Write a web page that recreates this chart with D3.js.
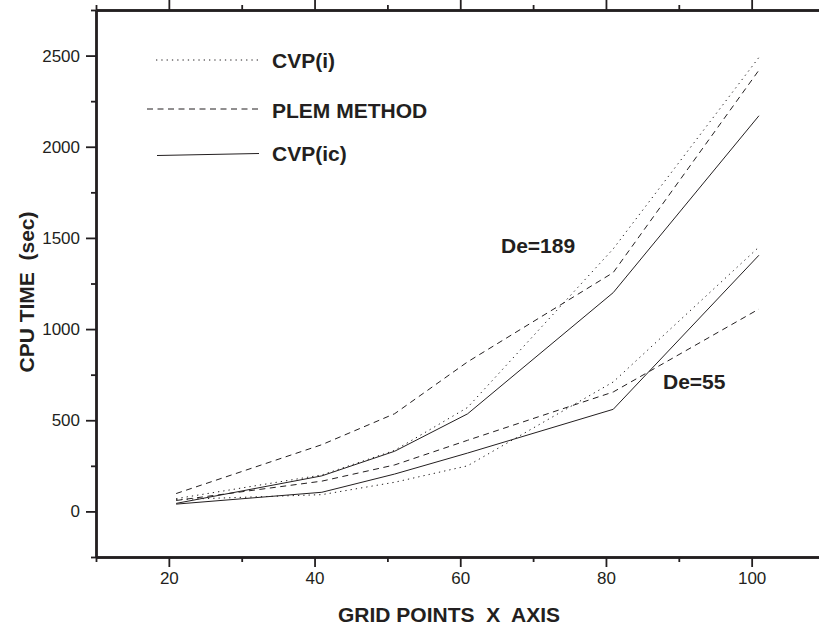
<!DOCTYPE html>
<html>
<head>
<meta charset="utf-8">
<script src="https://cdn.jsdelivr.net/npm/d3@7"></script>
<style>
  html, body { margin: 0; padding: 0; background: #fff; }
  svg { display: block; }
  text { font-family: "Liberation Sans", Arial, Helvetica, sans-serif; fill: #231f20; }
</style>
</head>
<body>
<svg id="chart" width="819" height="630"></svg>
<script>
// Grid points along the X axis
const gridPoints = [21, 41, 51, 61, 81, 101];

// CPU time (sec), De = 189
const cvpI189  = [70, 200, 335, 570, 1440, 2490];
const plem189  = [98, 366, 536, 820, 1310, 2420];
const cvpIc189 = [44, 195, 330, 535, 1200, 2170];

// CPU time (sec), De = 55
const cvpI55  = [65, 92, 160, 250, 710, 1450];
const plem55  = [60, 166, 255, 390, 655, 1110];
const cvpIc55 = [40, 105, 205, 320, 560, 1405];

const xTicks = [20, 40, 60, 80, 100];
const yTicks = [0, 500, 1000, 1500, 2000, 2500];

const methods = [
  { name: "CVP(i)",      dash: "1.3,4",  series: [cvpI189, cvpI55] },
  { name: "PLEM METHOD", dash: "6,4.5",  series: [plem189, plem55] },
  { name: "CVP(ic)",     dash: null,     series: [cvpIc189, cvpIc55] }
];

const ink = "#231f20";
const svg = d3.select("#chart");

const x = d3.scaleLinear().domain([10, 110]).range([96, 824.5]);
const y = d3.scaleLinear().domain([-250, 2750]).range([557, 10]);

// ---- data lines ----
const line = d3.line()
  .x((d, i) => x(gridPoints[i]))
  .y(d => y(d));

methods.forEach(m => {
  m.series.forEach(values => {
    svg.append("path")
      .datum(values)
      .attr("d", line)
      .attr("fill", "none")
      .attr("stroke", ink)
      .attr("stroke-width", 1)
      .attr("stroke-dasharray", m.dash);
  });
});

// ---- axes ----
function styleAxis(g) {
  g.select(".domain").attr("stroke", ink).attr("stroke-width", 2.4);
  g.selectAll(".tick line").attr("stroke", ink).attr("stroke-width", 1.8);
  g.selectAll(".tick text")
    .attr("font-size", 17)
    .attr("font-family", "Liberation Sans, Arial, sans-serif")
    .attr("fill", ink);
}

const yMinor = d3.range(-250, 2751, 500);
const xMinor = d3.range(10, 111, 20);
const plain = d3.format("d");

// bottom
svg.append("g")
  .attr("transform", `translate(0,${y(-250)})`)
  .call(d3.axisBottom(x).tickValues(xTicks).tickFormat(plain).tickSize(10).tickSizeOuter(0).tickPadding(5))
  .call(styleAxis);
svg.append("g")
  .attr("transform", `translate(0,${y(-250)})`)
  .call(d3.axisBottom(x).tickValues(xMinor).tickSize(5).tickSizeOuter(0).tickFormat(""))
  .call(styleAxis);

// top
svg.append("g")
  .attr("transform", `translate(0,${y(2750)})`)
  .call(d3.axisTop(x).tickValues(xTicks).tickSize(10).tickSizeOuter(0).tickFormat(""))
  .call(styleAxis);
svg.append("g")
  .attr("transform", `translate(0,${y(2750)})`)
  .call(d3.axisTop(x).tickValues(xMinor).tickSize(5).tickSizeOuter(0).tickFormat(""))
  .call(styleAxis);

// left
svg.append("g")
  .attr("transform", `translate(${x(10)},0)`)
  .call(d3.axisLeft(y).tickValues(yTicks).tickFormat(plain).tickSize(10).tickSizeOuter(0).tickPadding(6))
  .call(styleAxis);
svg.append("g")
  .attr("transform", `translate(${x(10)},0)`)
  .call(d3.axisLeft(y).tickValues(yMinor).tickSize(5).tickSizeOuter(0).tickFormat(""))
  .call(styleAxis);

// ---- axis titles ----
svg.append("text")
  .attr("x", 449)
  .attr("y", 622)
  .attr("text-anchor", "middle")
  .attr("font-size", 21)
  .attr("font-weight", "bold")
  .style("white-space", "pre")
  .text("GRID POINTS  X  AXIS");

svg.append("text")
  .attr("transform", "translate(34,292) rotate(-90)")
  .attr("text-anchor", "middle")
  .attr("font-size", 21)
  .attr("font-weight", "bold")
  .style("white-space", "pre")
  .text("CPU TIME  (sec)");

// ---- legend ----
const legendRows = [
  { x1: 156, x2: 258, y1: 60,  y2: 60,  ty: 68 },
  { x1: 147, x2: 261, y1: 109, y2: 109, ty: 118 },
  { x1: 157, x2: 259, y1: 155.5, y2: 153.5, ty: 161 }
];
methods.forEach((m, i) => {
  const r = legendRows[i];
  svg.append("line")
    .attr("x1", r.x1).attr("x2", r.x2)
    .attr("y1", r.y1).attr("y2", r.y2)
    .attr("stroke", ink)
    .attr("stroke-width", 1)
    .attr("stroke-dasharray", m.dash);
  svg.append("text")
    .attr("x", 272)
    .attr("y", r.ty)
    .attr("font-size", 21)
    .attr("font-weight", "bold")
    .text(m.name);
});

// ---- group annotations ----
svg.append("text").attr("x", 501).attr("y", 253)
  .attr("font-size", 21).attr("font-weight", "bold").text("De=189");
svg.append("text").attr("x", 663).attr("y", 389)
  .attr("font-size", 21).attr("font-weight", "bold").text("De=55");
</script>
</body>
</html>
